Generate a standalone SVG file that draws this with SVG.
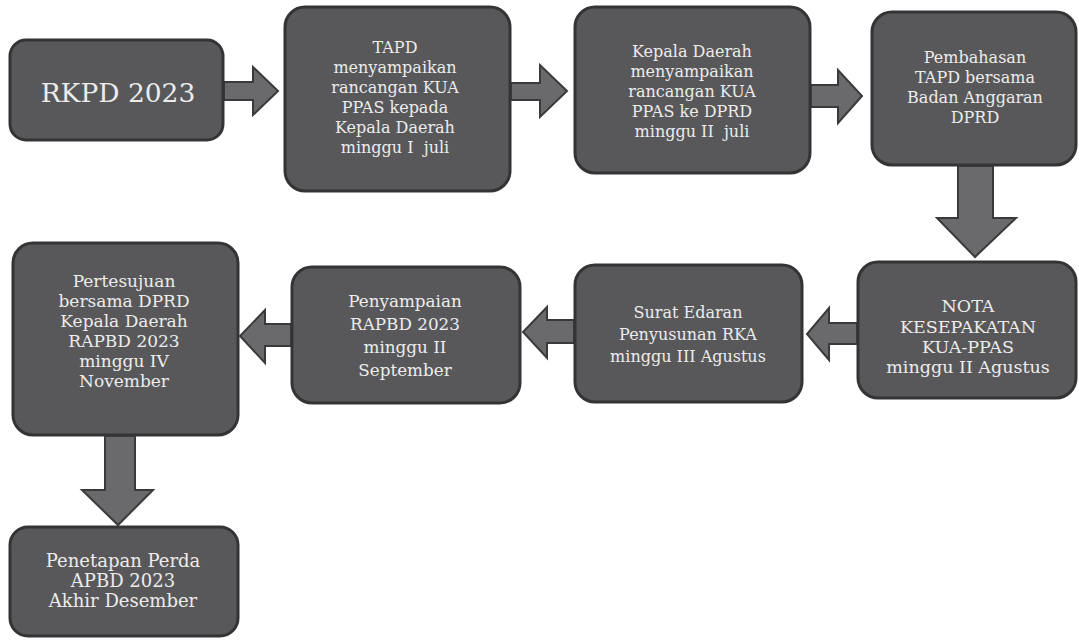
<svg xmlns="http://www.w3.org/2000/svg" width="1079" height="643" viewBox="0 0 1079 643">
<style>
.box{fill:#58585a;stroke:#343436;stroke-width:3}
.t{font-family:"DejaVu Serif","Liberation Serif",serif;fill:#ececec;text-anchor:middle;font-size:16px}
.arr{fill:#6a6a6c;stroke:#3a3a3c;stroke-width:2;stroke-linejoin:miter}
</style>
<rect width="1079" height="643" fill="#ffffff"/>
<g id="connectors">
<path class="arr" d="M224,82 L253,82 L253,67 L278,91 L253,115 L253,100 L224,100 Z"/>
<path class="arr" d="M511,83 L540,83 L540,65 L567,91 L540,117 L540,100 L511,100 Z"/>
<path class="arr" d="M811,85 L838,85 L838,70 L862,96 L838,123 L838,107 L811,107 Z"/>
<path class="arr" d="M958,166 L993,166 L993,218 L1016,218 L975,257 L937,218 L958,218 Z"/>
<path class="arr" d="M857,323 L829,323 L829,308 L807,334 L829,360 L829,344 L857,344 Z"/>
<path class="arr" d="M574,320 L547,320 L547,307 L523,332 L547,358 L547,343 L574,343 Z"/>
<path class="arr" d="M291,324 L265,324 L265,310 L240,336 L265,363 L265,346 L291,346 Z"/>
<path class="arr" d="M105,436 L135,436 L135,490 L153,490 L118,525 L82,490 L105,490 Z"/>
</g>
<g id="n1">
<rect class="box" x="10" y="40" width="213" height="100" rx="16"/>
<text class="t" x="118" y="102" style="font-size:26.5px">RKPD 2023</text>
</g>
<g id="n2">
<rect class="box" x="285" y="7" width="225" height="184" rx="20"/>
<text class="t" x="395" y="53">TAPD</text>
<text class="t" x="395" y="73">menyampaikan</text>
<text class="t" x="395" y="93">rancangan KUA</text>
<text class="t" x="395" y="113">PPAS kepada</text>
<text class="t" x="395" y="133">Kepala Daerah</text>
<text class="t" x="395" y="153">minggu I&#160; juli</text>
</g>
<g id="n3">
<rect class="box" x="575" y="7" width="235" height="166" rx="20"/>
<text class="t" x="692" y="57">Kepala Daerah</text>
<text class="t" x="692" y="77">menyampaikan</text>
<text class="t" x="692" y="97">rancangan KUA</text>
<text class="t" x="692" y="117">PPAS ke DPRD</text>
<text class="t" x="692" y="137">minggu II&#160; juli</text>
</g>
<g id="n4">
<rect class="box" x="872" y="12" width="204" height="153" rx="20"/>
<text class="t" x="975" y="63">Pembahasan</text>
<text class="t" x="975" y="83">TAPD bersama</text>
<text class="t" x="975" y="103">Badan Anggaran</text>
<text class="t" x="975" y="123">DPRD</text>
</g>
<g id="n5">
<rect class="box" x="858" y="262" width="218" height="136" rx="20"/>
<text class="t" x="968" y="312" style="font-size:17.5px">NOTA</text>
<text class="t" x="968" y="333" style="font-size:17.5px">KESEPAKATAN</text>
<text class="t" x="968" y="353" style="font-size:17.5px">KUA-PPAS</text>
<text class="t" x="968" y="373" style="font-size:17.5px">minggu II Agustus</text>
</g>
<g id="n6">
<rect class="box" x="575" y="265" width="227" height="137" rx="20"/>
<text class="t" x="688" y="318">Surat Edaran</text>
<text class="t" x="688" y="340">Penyusunan RKA</text>
<text class="t" x="688" y="362">minggu III Agustus</text>
</g>
<g id="n7">
<rect class="box" x="292" y="267" width="228" height="136" rx="20"/>
<text class="t" x="405" y="307" style="font-size:16.8px">Penyampaian</text>
<text class="t" x="405" y="330" style="font-size:16.8px">RAPBD 2023</text>
<text class="t" x="405" y="353" style="font-size:16.8px">minggu II</text>
<text class="t" x="405" y="376" style="font-size:16.8px">September</text>
</g>
<g id="n8">
<rect class="box" x="13" y="243" width="225" height="192" rx="20"/>
<text class="t" x="124" y="287" style="font-size:17px">Pertesujuan</text>
<text class="t" x="124" y="307" style="font-size:17px">bersama DPRD</text>
<text class="t" x="124" y="327" style="font-size:17px">Kepala Daerah</text>
<text class="t" x="124" y="347" style="font-size:17px">RAPBD 2023</text>
<text class="t" x="124" y="367" style="font-size:17px">minggu IV</text>
<text class="t" x="124" y="387" style="font-size:17px">November</text>
</g>
<g id="n9">
<rect class="box" x="10" y="527" width="228" height="109" rx="18"/>
<text class="t" x="123" y="567" style="font-size:18px">Penetapan Perda</text>
<text class="t" x="123" y="587" style="font-size:18px">APBD 2023</text>
<text class="t" x="123" y="607" style="font-size:18px">Akhir Desember</text>
</g>
</svg>
